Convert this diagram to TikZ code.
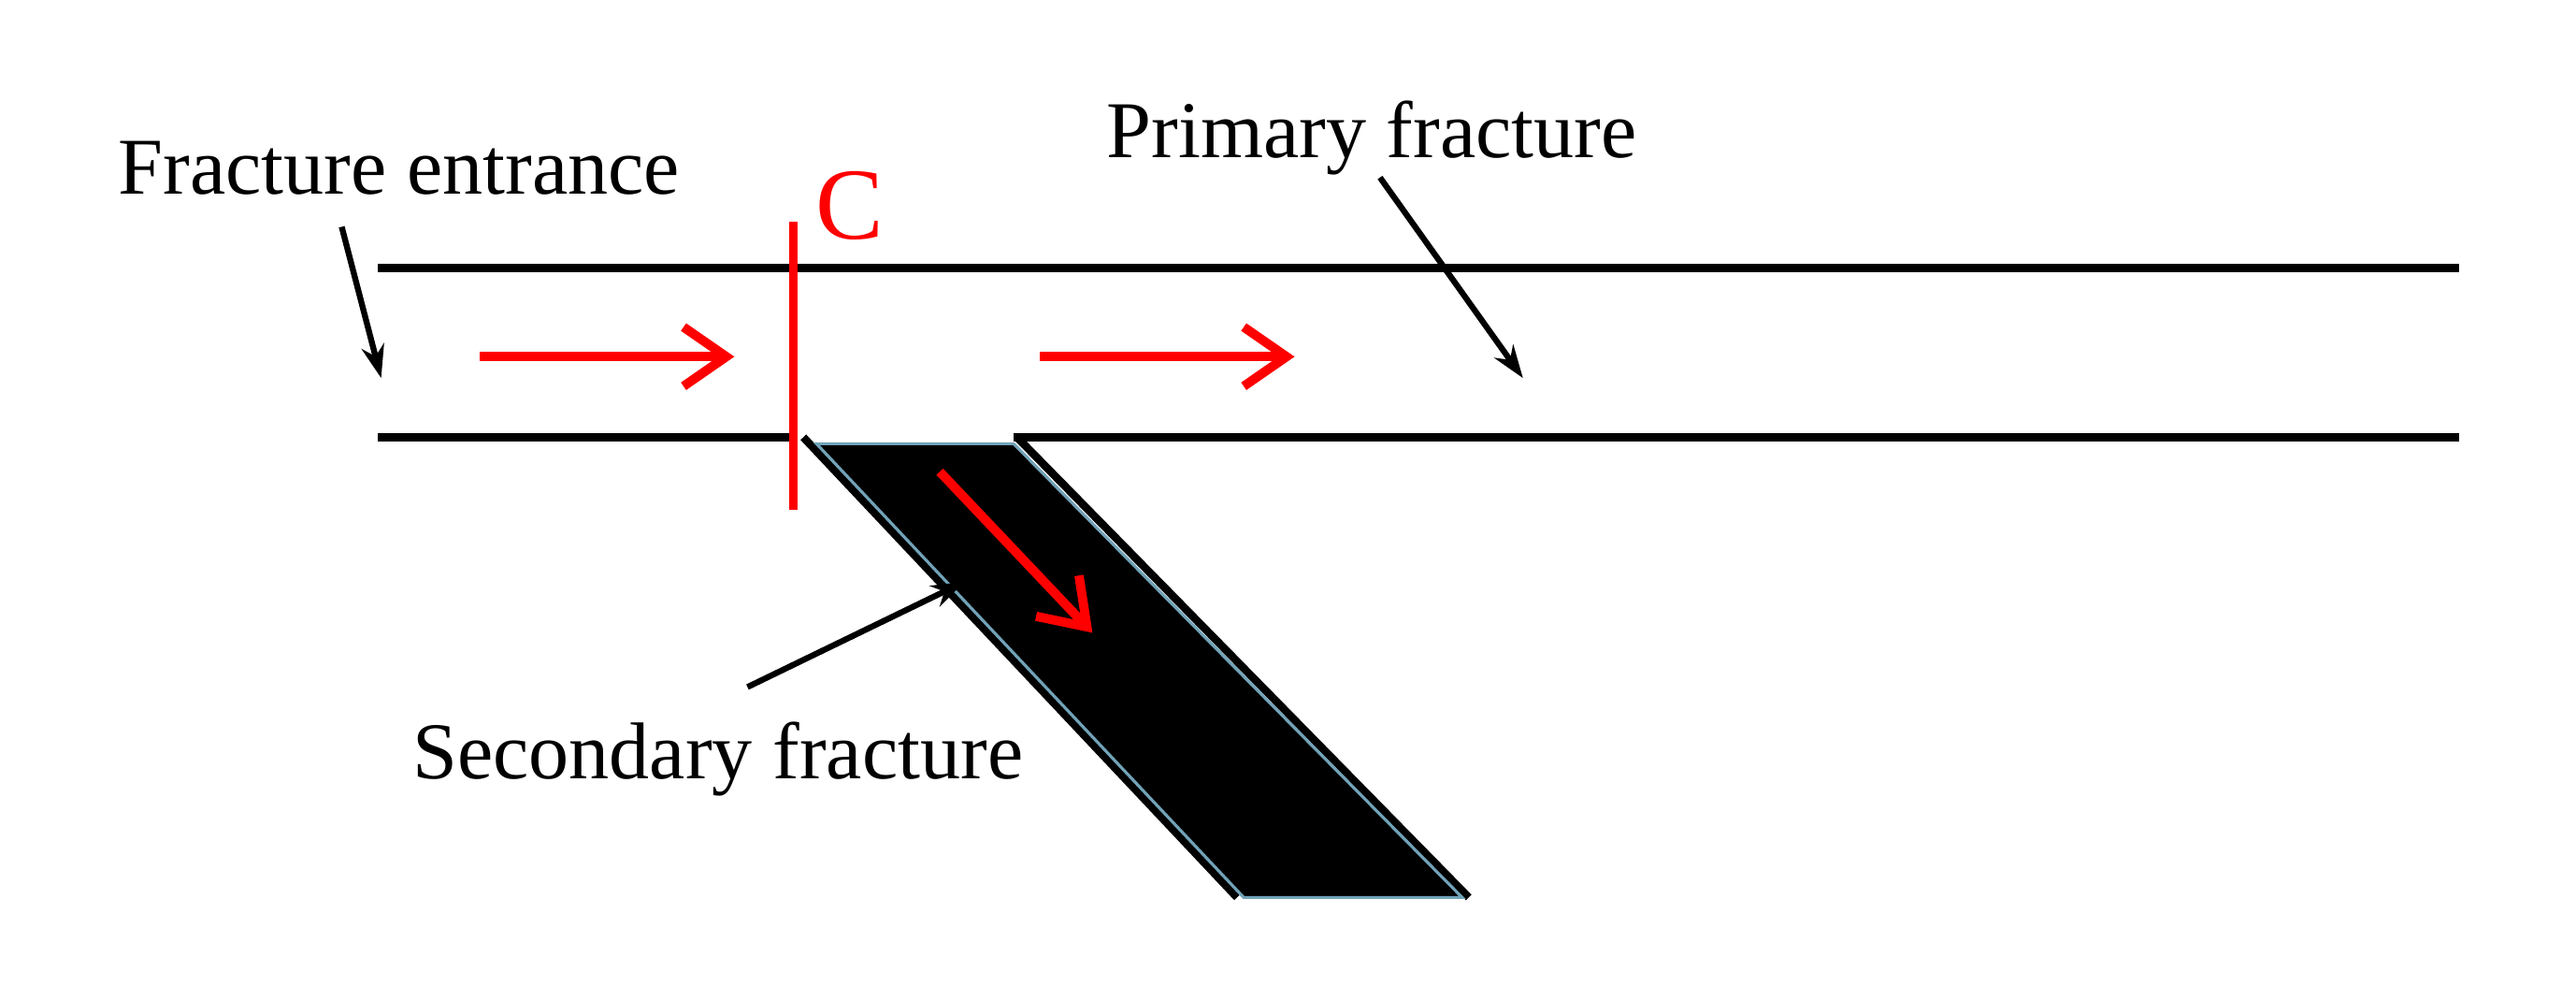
\documentclass[tikz,border=0pt]{standalone}
\usepackage{fontspec}
\setmainfont{Liberation Serif}
\usetikzlibrary{arrows.meta,calc}
\begin{document}
\begin{tikzpicture}[x=0.01757cm,y=-0.01757cm,
  wall/.style={line width=2.6pt},
  flow/.style={red,line width=2.8pt,-{Straight Barb[length=13pt,width=18pt,line width=2.8pt]}},
  pointer/.style={line width=1.8pt,-{Stealth[length=10pt,width=7pt]}},
  label/.style={font=\fontsize{24.5}{29}\selectfont,inner sep=0pt}]
\useasboundingbox (0,0) rectangle (1568,608);

% walls of the primary fracture
\draw[wall] (230,163) -- (1497,163);
\draw[wall] (230,266) -- (485,266);
\draw[wall] (617,266) -- (1497,266);

% secondary fracture
\coordinate (tl) at (497,270);
\coordinate (tr) at (617,270);
\coordinate (br) at (890,546);
\coordinate (bl) at (757,546);
\fill (tl) -- (tr) -- (br) -- (bl) -- cycle;
\draw[line width=2.4pt] ($(tl)+(-8,-4)$) -- ($(bl)+(-4,0)$);
\draw[line width=2.4pt] ($(tr)+(2,-4)$) -- ($(br)+(4,0)$);
\draw[cyan!40!gray,line width=0.9pt] (tl) -- (tr) -- (br) -- (bl) -- cycle;

% section C
\draw[red,line width=2.4pt] (483,135) -- (483,310);
\node[label,red,font=\fontsize{31}{36}\selectfont] (c) at (517,125) {C};

% flow
\coordinate (f1) at (292,217); \coordinate (f2) at (447,217);
\coordinate (f3) at (633,217); \coordinate (f4) at (788,217);
\coordinate (f5) at (572,287); \coordinate (f6) at (665,385);
\draw[flow] (f1) -- (f2);
\draw[flow] (f3) -- (f4);
\draw[flow] (f5) -- (f6);

% labels
\node[label] (entr) at (243,102) {Fracture entrance};
\node[label] (prim) at (835,84) {Primary fracture};
\node[label] (sec) at (437,462) {Secondary fracture};
\coordinate (pe) at (232,230);
\coordinate (pp) at (927,230);
\coordinate (ps) at (587,354);
\draw[pointer] (208,138) -- (pe);
\draw[pointer] (840,108) -- (pp);
\draw[pointer] (455,418) -- (ps);
\end{tikzpicture}
\end{document}
